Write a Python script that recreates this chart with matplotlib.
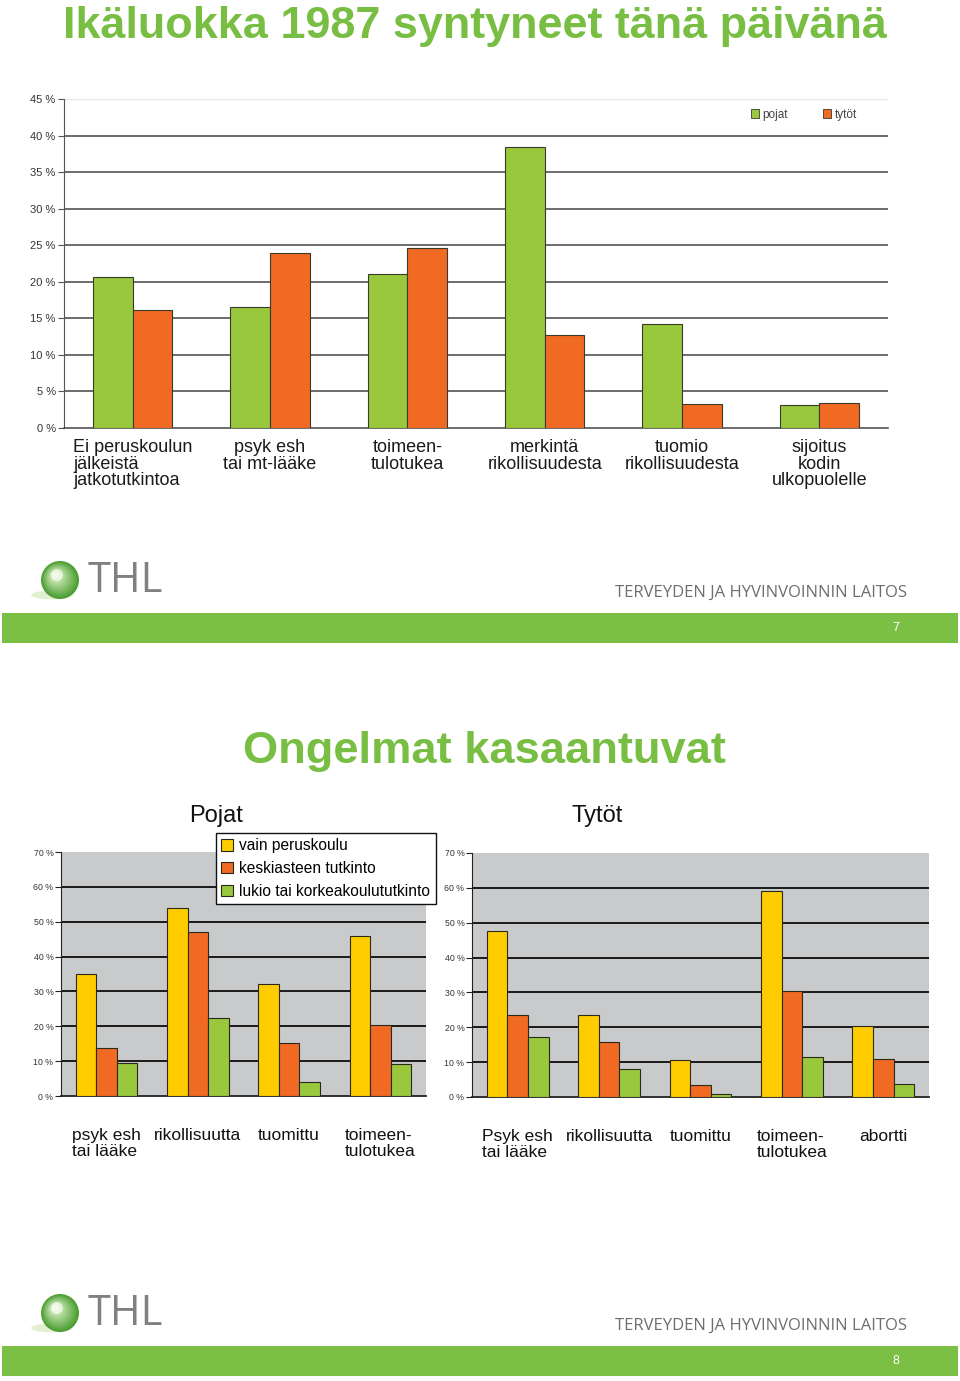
import numpy as np
import matplotlib.pyplot as plt
from matplotlib.patches import Rectangle, Circle, Ellipse, Patch

plt.rcParams['font.family'] = ['Liberation Sans', 'DejaVu Sans']

# Slide 7: age cohort born 1987
top_cats = ['Ei peruskoulun\njälkeistä\njatkotutkintoa', 'psyk esh\ntai mt-lääke',
            'toimeen-\ntulotukea', 'merkintä\nrikollisuudesta',
            'tuomio\nrikollisuudesta', 'sijoitus\nkodin\nulkopuolelle']
top_pojat = [20.7, 16.6, 21.1, 38.5, 14.2, 3.1]
top_tytot = [16.1, 24.0, 24.6, 12.7, 3.3, 3.4]
top_ticks = [0, 5, 10, 15, 20, 25, 30, 35, 40, 45]

# Slide 8: problems accumulate, by education
edu_labels = ['vain peruskoulu', 'keskiasteen tutkinto', 'lukio tai korkeakoulututkinto']
boys_cats = ['psyk esh\ntai lääke', 'rikollisuutta', 'tuomittu', 'toimeen-\ntulotukea']
boys_basic = [35.0, 53.9, 32.1, 46.0]
boys_mid = [13.9, 47.1, 15.1, 20.3]
boys_high = [9.4, 22.3, 4.1, 9.1]
girls_cats = ['Psyk esh\ntai lääke', 'rikollisuutta', 'tuomittu', 'toimeen-\ntulotukea', 'abortti']
girls_basic = [47.5, 23.5, 10.6, 59.0, 20.5]
girls_mid = [23.5, 15.9, 3.3, 30.4, 11.0]
girls_high = [17.1, 8.0, 0.8, 11.4, 3.8]
bottom_ticks = [0, 10, 20, 30, 40, 50, 60, 70]

GREEN_TITLE = '#78be43'
BAR_GREEN = '#99c83c'
BAR_ORANGE = '#f06a24'
BAR_YELLOW = '#ffcc00'
PANEL_GRAY = '#c9cacc'
FOOT_GREEN = '#7bbf44'

W, H = 960, 1381
fig = plt.figure(figsize=(W / 100, H / 100), dpi=100)


def px_axes(x0, y0, x1, y1):
    return fig.add_axes([x0 / W, 1 - y1 / H, (x1 - x0) / W, (y1 - y0) / H])


# background layer in pixel coordinates for slide decorations
bg = fig.add_axes([0, 0, 1, 1], zorder=-5)
bg.set_xlim(0, W)
bg.set_ylim(H, 0)
bg.axis('off')


def thl_logo(cy, bar_y, page):
    # sphere + reflection
    bg.add_patch(Ellipse((52, cy + 15), 42, 9, color='#d6ebc0', alpha=0.7, lw=0))
    r0 = 19
    for i in range(12):
        f = i / 11
        r = r0 * (1 - 0.85 * f)
        c = np.array([0.30, 0.62, 0.20]) * (1 - f) + np.array([0.88, 0.96, 0.80]) * f
        bg.add_patch(Circle((60 - 5 * f, cy - 5 * f), r, color=c, lw=0))
    bg.add_patch(Circle((57, cy - 5), 6, color='white', alpha=0.6, lw=0))
    bg.text(88, cy + 1, 'THL', fontsize=30, color='#808080', va='center', ha='left',
            family=['Open Sans', 'DejaVu Sans'])
    bg.text(615, bar_y - 20, 'TERVEYDEN JA HYVINVOINNIN LAITOS', fontsize=12,
            color='#6e6e6e', va='center', ha='left', family=['Open Sans', 'DejaVu Sans'])
    bg.add_patch(Rectangle((2, bar_y), 956, 30, color=FOOT_GREEN, lw=0))
    bg.text(896, bar_y + 15, page, fontsize=9, color='white', ha='center', va='center')


thl_logo(580, 613, '7')
thl_logo(1313, 1346, '8')

fig.text(475 / W, 1 - 38 / H, 'Ikäluokka 1987 syntyneet tänä päivänä', fontsize=32.4,
         fontweight='bold', color=GREEN_TITLE, ha='center', va='baseline')
fig.text(484 / W, 1 - 763 / H, 'Ongelmat kasaantuvat', fontsize=32.6,
         fontweight='bold', color=GREEN_TITLE, ha='center', va='baseline')

# ---------- top chart ----------
ax1 = px_axes(64, 99, 888, 428)
x = np.arange(len(top_cats))
w = 0.29
ax1.bar(x - w / 2, top_pojat, w, color=BAR_GREEN, edgecolor='#3a3a2a', lw=0.8, zorder=3)
ax1.bar(x + w / 2, top_tytot, w, color=BAR_ORANGE, edgecolor='#3a3a2a', lw=0.8, zorder=3)
ax1.set_xlim(-0.5, len(top_cats) - 0.5)
ax1.set_ylim(0, 45)
ax1.set_yticks(top_ticks)
ax1.set_yticklabels([f'{t} %' for t in top_ticks], fontsize=8, color='#333333')
for t in top_ticks[1:-1]:
    ax1.axhline(t, color='#444444', lw=1.1, zorder=1)
ax1.axhline(45, color='#e6e6e6', lw=1.0, zorder=1)
for s in ['top', 'right']:
    ax1.spines[s].set_visible(False)
ax1.spines['left'].set_color('#555555')
ax1.spines['bottom'].set_color('#444444')
ax1.spines['bottom'].set_linewidth(1.1)
ax1.tick_params(axis='y', length=4, color='#555555', pad=2)
ax1.set_xticks(x)
ax1.set_xticklabels(top_cats, fontsize=13, color='#1a1a1a', linespacing=0.97, va='top')
ax1.tick_params(axis='x', length=0, pad=8)
for i, lab in enumerate(ax1.get_xticklabels()):
    lab.set_multialignment('left' if i == 0 else 'center')
leg1 = ax1.legend(handles=[Patch(facecolor=BAR_GREEN, edgecolor='#3a3a2a', lw=0.6),
                           Patch(facecolor=BAR_ORANGE, edgecolor='#3a3a2a', lw=0.6)],
                  labels=['pojat', 'tytöt'], ncol=2, fontsize=8.5, frameon=True,
                  handlelength=0.7, handleheight=0.7, handletextpad=0.3, columnspacing=3.0,
                  loc='upper right', bbox_to_anchor=(862 / W, 1 - 104 / H),
                  bbox_transform=fig.transFigure, borderaxespad=0, fancybox=False)
leg1.get_frame().set_facecolor('white')
leg1.get_frame().set_edgecolor('white')
for t in leg1.get_texts():
    t.set_color('#444444')


# ---------- bottom charts ----------
def edu_chart(box, cats, basic, mid, high, title, tx):
    ax = px_axes(*box)
    xs = np.arange(len(cats))
    bw = 0.225
    ax.set_facecolor(PANEL_GRAY)
    ax.bar(xs - bw, basic, bw, color=BAR_YELLOW, edgecolor='#2a2a1a', lw=0.8, zorder=3)
    ax.bar(xs, mid, bw, color=BAR_ORANGE, edgecolor='#2a2a1a', lw=0.8, zorder=3)
    ax.bar(xs + bw, high, bw, color=BAR_GREEN, edgecolor='#2a2a1a', lw=0.8, zorder=3)
    ax.set_xlim(-0.5, len(cats) - 0.5)
    ax.set_ylim(0, 70)
    ax.set_yticks(bottom_ticks)
    ax.set_yticklabels([f'{t} %' for t in bottom_ticks], fontsize=6.3, color='#333333')
    for t in bottom_ticks[1:-1]:
        ax.axhline(t, color='#1a1a1a', lw=1.4, zorder=1)
    for s in ['top', 'right']:
        ax.spines[s].set_visible(False)
    ax.spines['left'].set_color('#222222')
    ax.spines['bottom'].set_color('#222222')
    ax.spines['bottom'].set_linewidth(1.3)
    ax.tick_params(axis='y', length=4, color='#222222', pad=1.5)
    ax.set_xticks(xs)
    ax.set_xticklabels(cats, fontsize=12.5, color='#111111', linespacing=1.1, va='top')
    ax.tick_params(axis='x', length=0, pad=23)
    for lab in ax.get_xticklabels():
        lab.set_multialignment('left')
    fig.text(tx / W, 1 - 816 / H, title, fontsize=17, color='#111111', ha='center', va='center')
    return ax


axb = edu_chart((61, 852, 426, 1096), boys_cats, boys_basic, boys_mid, boys_high, 'Pojat', 216)
axg = edu_chart((472, 853, 929, 1097), girls_cats, girls_basic, girls_mid, girls_high, 'Tytöt', 597)

leg2 = fig.legend(handles=[Patch(facecolor=c, edgecolor='#2a2a1a', lw=0.8)
                           for c in [BAR_YELLOW, BAR_ORANGE, BAR_GREEN]],
                  labels=edu_labels, fontsize=11.2, loc='upper left',
                  bbox_to_anchor=(216 / W, 1 - 833 / H), borderaxespad=0,
                  fancybox=False, handlelength=0.75, handleheight=0.75,
                  handletextpad=0.4, labelspacing=0.5, borderpad=0.35)
leg2.get_frame().set_edgecolor('#111111')
leg2.get_frame().set_facecolor('white')
leg2.get_frame().set_alpha(1)
leg2.get_frame().set_linewidth(1.0)
leg2.set_zorder(10)

fig.savefig('out.png', dpi=100, facecolor='white')
